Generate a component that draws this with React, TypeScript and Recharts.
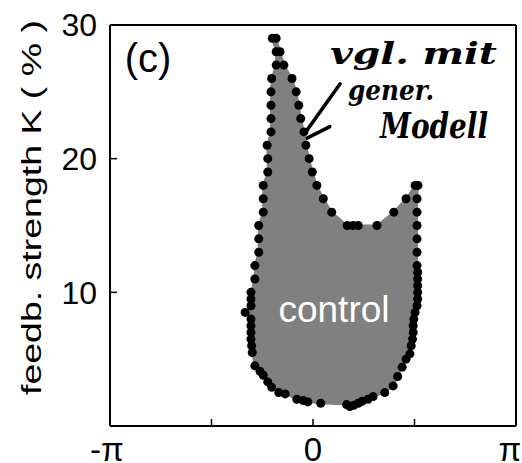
import React from 'react';
import { ScatterChart, Scatter, XAxis, YAxis, ReferenceLine } from 'recharts';

const PI = Math.PI;

// boundary of the control region (phase in rad, feedback strength K in %), traversed as a closed loop
const boundaryPhase = [
  -0.63, -0.57, -0.57, -0.64, -0.65, -0.65, -0.65, -0.65, -0.71, -0.70,
  -0.70, -0.77, -0.77, -0.77, -0.84, -0.84, -0.84, -0.90, -0.90, -0.96,
  -0.96, -0.96, -1.05, -0.96, -0.96, -0.96, -0.96, -0.95, -0.94, -0.90,
  -0.82, -0.77, -0.70, -0.64, -0.53, -0.43, -0.25, -0.15, -0.08, 0.12,
  0.52, 0.57, 0.63, 0.70, 0.76, 0.85, 0.93, 1.11, 1.24, 1.31,
  1.38, 1.44, 1.50, 1.52, 1.54, 1.55, 1.55, 1.56, 1.58, 1.61,
  1.62, 1.62, 1.62, 1.62, 1.62, 1.61, 1.61, 1.61, 1.61, 1.61,
  1.61, 1.625, 1.58, 1.44, 1.25, 0.99, 0.70, 0.62, 0.53, 0.29,
  0.16, 0.06, -0.01, -0.06, -0.11, -0.14, -0.19, -0.22, -0.26, -0.325,
  -0.45, -0.51, -0.57,
];
const boundaryK = [
  29, 28, 27, 26, 25, 24, 23, 22, 21, 20,
  19, 18, 17, 16, 15, 14, 13, 12, 11, 10,
  9.5, 9.0, 8.5, 8.0, 7.5, 7.0, 6.5, 6.0, 5.5, 4.5,
  4.1, 3.8, 3.3, 2.9, 2.5, 2.4, 2.0, 1.9, 1.8, 1.7,
  1.6, 1.45, 1.55, 1.7, 1.85, 2.0, 2.2, 2.5, 3.0, 3.7,
  4.4, 5.0, 5.4, 6.0, 6.5, 7.0, 7.5, 8.0, 8.5, 9.0,
  9.5, 10.0, 10.5, 11.0, 11.5, 12, 13, 14, 15, 16,
  17, 18, 18, 17, 16, 15, 15, 15, 15, 16,
  17, 18, 19, 20, 21, 22, 23, 24, 25, 26,
  27, 28, 29,
];

const xTickValues = [-PI, -PI / 2, 0, PI / 2, PI];
const xTickLabels = ['-π', '', '0', '', 'π'];
const yTickValues = [10, 20, 30];

// hand-drawn arrow of the annotation (phase, K)
const arrowPhase = [0.42, -0.23, -0.17, 0.26];
const arrowK = [25.6, 21.2, 23.1, 22.4];

const data = boundaryPhase.map((p, i) => ({ phase: p, k: boundaryK[i] }));

const FONT = '"Liberation Sans", Arial, Helvetica, sans-serif';

const XTick = (props: any) => {
  const { x, y, payload } = props;
  const idx = xTickValues.findIndex((v) => Math.abs(v - payload.value) < 1e-9);
  const label = idx >= 0 ? xTickLabels[idx] : '';
  const dx = idx === xTickValues.length - 1 ? -6 : idx === 0 ? -3 : 0;
  return (
    <text x={x + dx} y={y} dy="0.71em" textAnchor="middle" fontSize={33} fill="#000" fontFamily={FONT}>
      {label}
    </text>
  );
};

const Dot = (props: any) => <circle cx={props.cx} cy={props.cy} r={4.5} fill="#000" />;

const arrowSegs = [
  [0, 1],
  [2, 1],
  [3, 1],
];

export default function App() {
  return (
    <div style={{ position: 'absolute', left: 0, top: 0, width: 522, height: 463, background: '#fff' }}>
      <ScatterChart width={522} height={463} margin={{ top: 24, right: 5, bottom: 0, left: 0 }}>
        <XAxis
          xAxisId="b"
          dataKey="phase"
          type="number"
          domain={[-PI, PI]}
          ticks={xTickValues}
          allowDataOverflow
          orientation="bottom"
          height={37}
          axisLine={{ stroke: '#000', strokeWidth: 2 }}
          tickLine={{ stroke: '#000', strokeWidth: 1.5 }}
          tickSize={-7}
          tickMargin={19}
          tick={<XTick />}
          interval={0}
        />
        <XAxis
          xAxisId="t"
          dataKey="phase"
          type="number"
          domain={[-PI, PI]}
          ticks={xTickValues}
          allowDataOverflow
          orientation="top"
          height={1}
          axisLine={{ stroke: '#000', strokeWidth: 2 }}
          tickLine={{ stroke: '#000', strokeWidth: 1.5 }}
          tickSize={-7}
          tick={false}
          interval={0}
        />
        <YAxis
          yAxisId="l"
          dataKey="k"
          type="number"
          domain={[0, 30]}
          ticks={yTickValues}
          allowDataOverflow
          orientation="left"
          width={110}
          axisLine={{ stroke: '#000', strokeWidth: 2 }}
          tickLine={{ stroke: '#000', strokeWidth: 1.5 }}
          tickSize={-7}
          tickMargin={20}
          tick={{ fontSize: 32, fill: '#000', fontFamily: FONT }}
          interval={0}
        />
        <YAxis
          yAxisId="r"
          dataKey="k"
          type="number"
          domain={[0, 30]}
          ticks={yTickValues}
          allowDataOverflow
          orientation="right"
          width={1}
          axisLine={{ stroke: '#000', strokeWidth: 2 }}
          tickLine={{ stroke: '#000', strokeWidth: 1.5 }}
          tickSize={-7}
          tick={false}
          interval={0}
        />
        <Scatter
          xAxisId="b"
          yAxisId="l"
          data={data}
          fill="#000"
          line={{ fill: '#808080', stroke: '#808080', strokeWidth: 2 }}
          lineType="joint"
          shape={<Dot />}
          isAnimationActive={false}
        />
        {arrowSegs.map(([a, b], i) => (
          <ReferenceLine
            key={i}
            xAxisId="b"
            yAxisId="l"
            segment={[
              { x: arrowPhase[a], y: arrowK[a] },
              { x: arrowPhase[b], y: arrowK[b] },
            ]}
            stroke="#000"
            strokeWidth={3.5}
            strokeLinecap="round"
            ifOverflow="visible"
          />
        ))}
      </ScatterChart>
      <svg
        width={522}
        height={463}
        style={{ position: 'absolute', left: 0, top: 0, pointerEvents: 'none' }}
      >
        <text
          x={41}
          y={207.5}
          transform="rotate(-90 41 207.5)"
          textAnchor="middle"
          fontSize={27}
          fill="#000"
          fontFamily={FONT}
          textLength={375}
          lengthAdjust="spacingAndGlyphs"
        >
          feedb. strength K ( % )
        </text>
        <text x={148} y={72} textAnchor="middle" fontSize={40} fill="#000" fontFamily={FONT}>
          (c)
        </text>
        <text x={334} y={322} textAnchor="middle" fontSize={37} fill="#fff" fontFamily={FONT}>
          control
        </text>
        <g fill="#000" fontFamily='"DejaVu Serif", "Liberation Serif", serif' fontStyle="italic" fontWeight="bold">
          <text x={330} y={64} fontSize={30} textLength={167} lengthAdjust="spacingAndGlyphs">
            vgl. mit
          </text>
          <text x={348} y={100} fontSize={28} textLength={86} lengthAdjust="spacingAndGlyphs">
            gener.
          </text>
          <text x={380} y={138} fontSize={36} textLength={108} lengthAdjust="spacingAndGlyphs">
            Modell
          </text>
        </g>
      </svg>
    </div>
  );
}
